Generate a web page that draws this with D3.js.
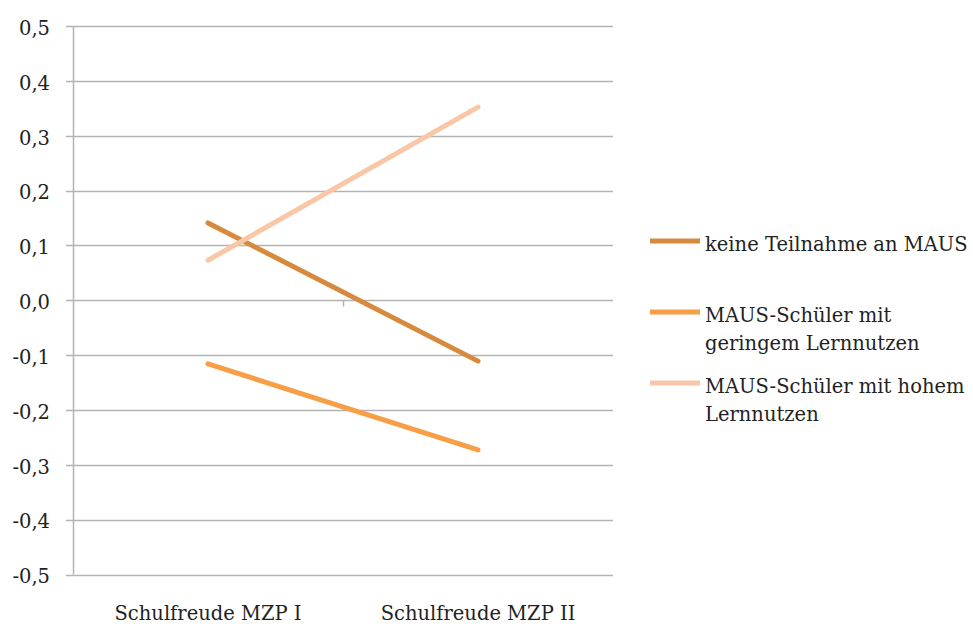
<!DOCTYPE html>
<html>
<head>
<meta charset="utf-8">
<script src="https://cdn.jsdelivr.net/npm/d3@7"></script>
<style>
  html, body { margin: 0; padding: 0; background: #fff; }
  svg { display: block; }
  text { font-family: "DejaVu Serif", serif; fill: #222; }
</style>
</head>
<body>
<svg id="chart" width="973" height="624"></svg>
<script>
// Schulfreude at two measurement points, by group
const categories = ["Schulfreude MZP I", "Schulfreude MZP II"];
const seriesNames = [
  "keine Teilnahme an MAUS",
  "MAUS-Schüler mit geringem Lernnutzen",
  "MAUS-Schüler mit hohem Lernnutzen"
];
const keineTeilnahme = [0.141, -0.111];
const geringerNutzen = [-0.116, -0.273];
const hoherNutzen = [0.073, 0.352];
const yTicks = [0.5, 0.4, 0.3, 0.2, 0.1, 0.0, -0.1, -0.2, -0.3, -0.4, -0.5];

const seriesValues = [keineTeilnahme, geringerNutzen, hoherNutzen];
const colors = ["#D68A3E", "#F89E46", "#F9C6A6"];
const legendLines = [
  ["keine Teilnahme an MAUS"],
  ["MAUS-Schüler mit", "geringem Lernnutzen"],
  ["MAUS-Schüler mit hohem", "Lernnutzen"]
];

const svg = d3.select("#chart");
const plot = { left: 73, right: 613, top: 26, bottom: 574.5 };

const x = d3.scaleBand().domain(categories).range([plot.left, plot.right]);
const y = d3.scaleLinear().domain([-0.5, 0.5]).range([plot.bottom, plot.top]);

const fmt = v => d3.format(".1f")(v).replace(".", ",").replace("−", "-");

// horizontal gridlines
svg.append("g")
  .selectAll("line")
  .data(yTicks)
  .join("line")
  .attr("x1", plot.left - 7)
  .attr("x2", plot.right)
  .attr("y1", d => Math.round(y(d)) + 0.5)
  .attr("y2", d => Math.round(y(d)) + 0.5)
  .attr("stroke", "#b3b3b3")
  .attr("stroke-width", 1.5);

// vertical axis line
svg.append("line")
  .attr("x1", plot.left + 0.5).attr("x2", plot.left + 0.5)
  .attr("y1", y(0.5)).attr("y2", y(-0.5))
  .attr("stroke", "#b3b3b3").attr("stroke-width", 1.5);

// category divider on the zero line
const zeroY = Math.round(y(0)) + 0.5;
svg.append("g")
  .selectAll("line")
  .data([x(categories[1])])
  .join("line")
  .attr("x1", d => d + 0.5).attr("x2", d => d + 0.5)
  .attr("y1", zeroY).attr("y2", zeroY + 6)
  .attr("stroke", "#b3b3b3").attr("stroke-width", 1.5);

// y tick labels
svg.append("g")
  .selectAll("text")
  .data(yTicks)
  .join("text")
  .attr("x", 50)
  .attr("y", d => y(d) + 2)
  .attr("dy", "0.35em")
  .attr("text-anchor", "end")
  .attr("font-size", 19.5)
  .text(fmt);

// category labels
svg.append("g")
  .selectAll("text")
  .data(categories)
  .join("text")
  .attr("x", d => x(d) + x.bandwidth() / 2)
  .attr("y", 620)
  .attr("text-anchor", "middle")
  .attr("font-size", 19.5)
  .text(d => d);

// series lines
const line = d3.line()
  .x((d, i) => x(categories[i]) + x.bandwidth() / 2)
  .y(d => y(d));

svg.append("g")
  .selectAll("path")
  .data(seriesValues)
  .join("path")
  .attr("d", line)
  .attr("fill", "none")
  .attr("stroke", (d, i) => colors[i])
  .attr("stroke-width", 5)
  .attr("stroke-linecap", "round");

// legend
const legendY = [241, 312, 383];
const legend = svg.append("g")
  .selectAll("g")
  .data(seriesNames)
  .join("g")
  .attr("transform", (d, i) => `translate(650,${legendY[i]})`);

legend.append("line")
  .attr("x1", 0).attr("x2", 50)
  .attr("y1", 0).attr("y2", 0)
  .attr("stroke", (d, i) => colors[i])
  .attr("stroke-width", 5);

legend.append("text")
  .attr("x", 55)
  .attr("y", 3)
  .attr("font-size", 19.5)
  .selectAll("tspan")
  .data((d, i) => legendLines[i])
  .join("tspan")
  .attr("x", 55)
  .attr("dy", (d, j) => j === 0 ? "0.35em" : "1.45em")
  .text(d => d);
</script>
</body>
</html>
